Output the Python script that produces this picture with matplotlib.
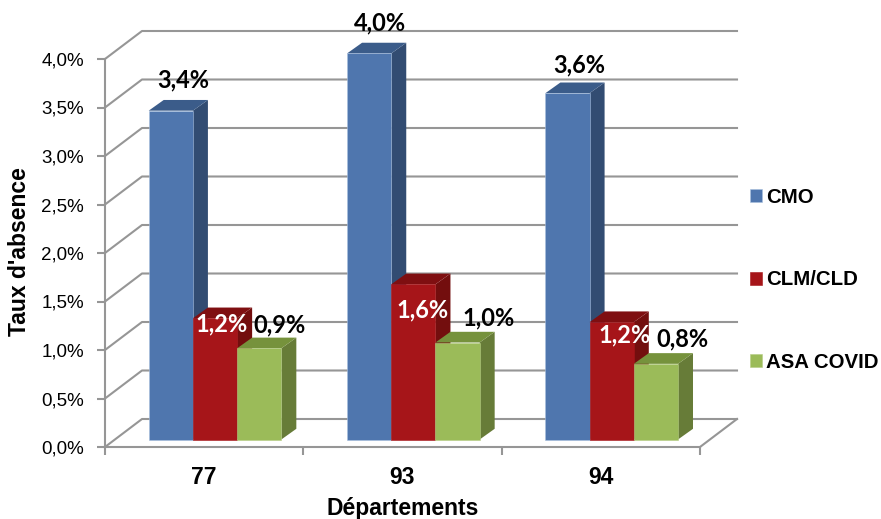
import matplotlib
matplotlib.use("Agg")
import matplotlib.pyplot as plt
from matplotlib.ticker import FuncFormatter

# Données
departements = ["77", "93", "94"]
series = ["CMO", "CLM/CLD", "ASA COVID"]
cmo = [3.39, 3.98, 3.57]
clm_cld = [1.25, 1.60, 1.21]
asa_covid = [0.94, 1.00, 0.78]
etiq_cmo = ["3,4%", "4,0%", "3,6%"]
etiq_clm = ["1,2%", "1,6%", "1,2%"]
etiq_asa = ["0,9%", "1,0%", "0,8%"]

# Couleurs : face, dessus, côté
couleurs = [("#4F76AE", "#3B5C8A", "#324C72"),
            ("#A61519", "#7F0F11", "#730E0E"),
            ("#9BBB59", "#76923C", "#677C38")]
bords = ["#A9C0DE", "#A61519", "#B5CC85"]

W, H = 881, 519
PX_X = 198.3   # pixels par catégorie
PX_Y = 97.0    # pixels pour 1 %

# Décalages de la perspective, en unités de données
MUR_DX, MUR_DY = 37 / PX_X, 28 / PX_Y
BAR_DX, BAR_DY = 15 / PX_X, 10.7 / PX_Y
BASE_X, BASE_Y = 43.7 / PX_X, 7.5 / PX_Y
LARGEUR = 44.2 / PX_X

# Décalage des étiquettes en pixels par rapport au haut de la barre
decal_cmo = [(12, 31), (11, 31), (12, 28)]
decal_clm = [(7, -6), (9, -26), (13, -13)]
decal_asa = [(20, 23), (31, 25), (27, 25)]

GRIS = "#969696"

plt.rcParams["font.family"] = ["Liberation Sans", "DejaVu Sans"]

fig = plt.figure(figsize=(W / 100, H / 100), dpi=100)
ax = fig.add_axes([105 / W, 1 - 447 / H, (700 - 105) / W, (447 - 59) / H])
ax.set_xlim(0, 3)
ax.set_ylim(0, 4)
ax.patch.set_visible(False)

# Mur du fond et parois
graduations = [0, 0.5, 1, 1.5, 2, 2.5, 3, 3.5, 4]
for g in graduations:
    ax.plot([0, MUR_DX, 3 + MUR_DX], [g, g + MUR_DY, g + MUR_DY],
            color=GRIS, lw=1.5, clip_on=False, zorder=1)
ax.plot([3, 3 + MUR_DX], [0, MUR_DY], color=GRIS, lw=1.5, clip_on=False, zorder=1)

# Barres en perspective
valeurs = [cmo, clm_cld, asa_covid]
z = 2
for i in range(len(departements)):
    for j, vals in enumerate(valeurs):
        x0 = i + BASE_X + j * LARGEUR
        x1 = x0 + LARGEUR
        bas = BASE_Y
        haut = bas + vals[i]
        face, dessus, cote = couleurs[j]
        ax.fill([x1, x1 + BAR_DX, x1 + BAR_DX, x1],
                [bas, bas + BAR_DY, haut + BAR_DY, haut],
                color=cote, lw=0, clip_on=False, zorder=z)
        ax.fill([x0, x1, x1 + BAR_DX, x0 + BAR_DX],
                [haut, haut, haut + BAR_DY, haut + BAR_DY],
                color=dessus, lw=0, clip_on=False, zorder=z)
        ax.bar(x0, vals[i], LARGEUR, bottom=bas, align="edge", color=face,
               edgecolor=bords[j], lw=0.4, clip_on=False, zorder=z + 0.5,
               label=series[j] if i == 0 else None)
        z += 1

# Étiquettes de données
etiquettes = [etiq_cmo, etiq_clm, etiq_asa]
decalages = [decal_cmo, decal_clm, decal_asa]
couleurs_txt = ["black", "white", "black"]
for j, vals in enumerate(valeurs):
    for i, v in enumerate(vals):
        xc = i + BASE_X + (j + 0.5) * LARGEUR
        ax.annotate(etiquettes[j][i], (xc, BASE_Y + v), xytext=decalages[j][i],
                    textcoords="offset pixels", ha="center", va="center",
                    family="Lato", fontweight="bold", fontsize=17,
                    color=couleurs_txt[j], zorder=100, annotation_clip=False)

# Axes
for s in ["top", "right"]:
    ax.spines[s].set_visible(False)
for s in ["left", "bottom"]:
    ax.spines[s].set_color(GRIS)
    ax.spines[s].set_linewidth(1.5)

ax.set_yticks(graduations)
ax.yaxis.set_major_formatter(FuncFormatter(lambda v, p: f"{v:.1f}%".replace(".", ",")))
ax.tick_params(axis="y", length=5.5, width=1.5, color=GRIS, labelsize=13.5, pad=9.5)

ax.set_xticks([0, 1, 2, 3])
ax.set_xticklabels([])
ax.set_xticks([0.5, 1.5, 2.5], departements, minor=True)
ax.tick_params(axis="x", which="major", length=5.5, width=1.5, color=GRIS)
ax.tick_params(axis="x", which="minor", length=0, pad=14, labelsize=16.5)
for lab in ax.get_xticklabels(minor=True):
    lab.set_fontweight("bold")

fig.text(20 / W, 1 - 252 / H, "Taux d'absence", rotation=90, ha="center", va="center",
         fontsize=16.5, fontweight="bold")
fig.text(403 / W, 1 - 508 / H, "Départements", ha="center", va="center",
         fontsize=16.5, fontweight="bold")

# Légende
ax.legend(loc="upper left", bbox_to_anchor=(750 / W, 1 - 188 / H),
          bbox_transform=fig.transFigure, frameon=False, ncol=1,
          prop={"family": "Liberation Sans", "weight": "bold", "size": 14.7},
          handlelength=0.59, handleheight=0.59, handletextpad=0.2,
          labelspacing=3.1, borderpad=0, borderaxespad=0)

fig.savefig("out.png", dpi=100, facecolor="white")
